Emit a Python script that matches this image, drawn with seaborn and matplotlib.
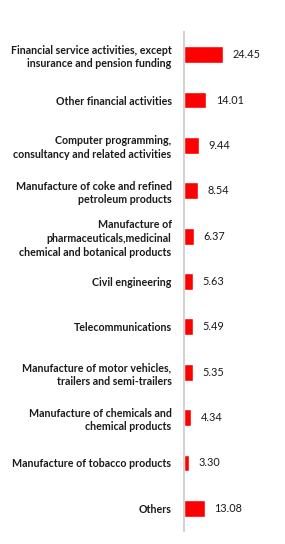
import matplotlib
matplotlib.use("Agg")
import matplotlib.pyplot as plt
import seaborn as sns
import pandas as pd

sectors = [
    "Financial service activities, except\ninsurance and pension funding",
    "Other financial activities",
    "Computer programming,\nconsultancy and related activities",
    "Manufacture of coke and refined\npetroleum products",
    "Manufacture of\npharmaceuticals,medicinal\nchemical and botanical products",
    "Civil engineering",
    "Telecommunications",
    "Manufacture of motor vehicles,\ntrailers and semi-trailers",
    "Manufacture of chemicals and\nchemical products",
    "Manufacture of tobacco products",
    "Others",
]
shares = [24.45, 14.01, 9.44, 8.54, 6.37, 5.63, 5.49, 5.35, 4.34, 3.30, 13.08]

df = pd.DataFrame({"sector": sectors, "share": shares})

sns.set_theme(style="white")
plt.rcParams["font.family"] = ["Lato", "DejaVu Sans"]

W, H = 285, 544
fig = plt.figure(figsize=(W / 100, H / 100), dpi=100)
ax = fig.add_axes([184 / W, 1 - 531 / H, (W - 184) / W, (531 - 32) / H])

sns.barplot(data=df, x="share", y="sector", orient="h", color="#ff0000",
            width=0.37, saturation=1, ax=ax)

ax.set_xlim(0, (W - 184) / 1.6)
ax.set_ylim(10.5, -0.5)
ax.set_xlabel("")
ax.set_ylabel("")
ax.set_xticks([])
for s in ["top", "right", "bottom"]:
    ax.spines[s].set_visible(False)
ax.spines["left"].set_color("#d3d3d3")
ax.spines["left"].set_linewidth(1.5)
ax.tick_params(axis="y", length=0, pad=9, labelsize=7.7)
for lbl in ax.get_yticklabels():
    lbl.set_multialignment("right")
    lbl.set_linespacing(1.3)
    lbl.set_fontweight("bold")
    lbl.set_color("#1a1a1a")

for i, v in enumerate(shares):
    ax.text(v + 6, i, f"{v:.2f}", va="center", ha="left", fontsize=7.8,
            color="#1a1a1a")

fig.savefig("out.png", dpi=100)
